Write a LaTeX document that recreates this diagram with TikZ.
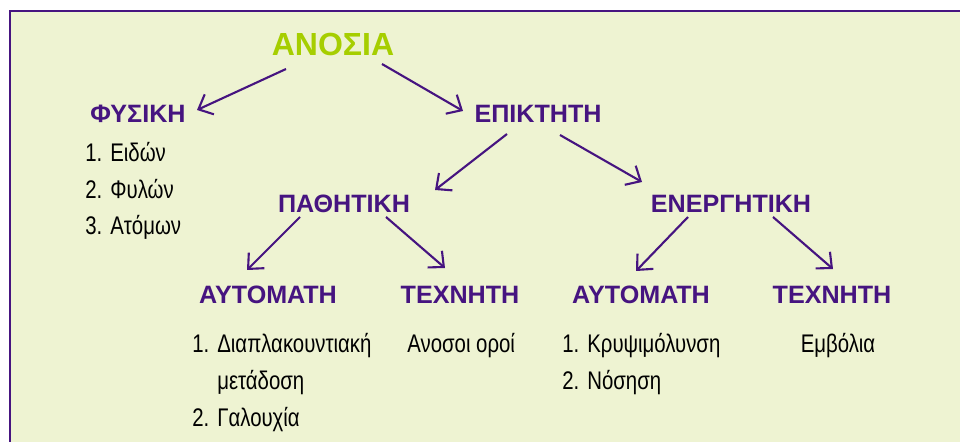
\documentclass[tikz,border=0pt]{standalone}
\usepackage{fontspec}
\setmainfont{Liberation Sans}
\newfontfamily\narrowfont[FakeStretch=0.8]{Liberation Sans}
\usepackage{tikz}
\usetikzlibrary{arrows.meta,positioning}
\definecolor{framepurple}{HTML}{461480}
\definecolor{paneback}{HTML}{EEF3D2}
\definecolor{titlegreen}{HTML}{A6CE00}
\newcommand{\listno}[1]{\makebox[5mm][l]{#1.}}
\begin{document}
\begin{tikzpicture}[x=0.02cm,y=-0.02cm,
title node/.style={anchor=base,inner sep=0pt,font=\fontsize{18.2}{20}\selectfont\bfseries,text=titlegreen},
class node/.style={anchor=base,inner sep=0pt,font=\fontsize{14.3}{16}\selectfont\bfseries,text=framepurple},
item list/.style={anchor=base west,inner sep=0pt,align=left,font=\narrowfont\fontsize{14.5}{21}\selectfont},
flow/.style={-{Straight Barb[length=2.4mm,width=4.4mm,line width=1.2pt]},line width=1.2pt,draw=framepurple}]
\useasboundingbox (0,0) rectangle (960,442);
\fill[white] (0,0) rectangle (960,442);
\filldraw[fill=paneback,draw=framepurple,line width=1.6pt] (10,11) rectangle (975,460);
% top of the tree
\node[title node] (anosia) at (333,56) {ΑΝΟΣΙΑ};
\node[class node] (fysiki) at (138,123) {ΦΥΣΙΚΗ};
\node[class node] (epikt) at (538,123) {ΕΠΙΚΤΗΤΗ};
\node[class node] (pathi) at (344,213) {ΠΑΘΗΤΙΚΗ};
\node[class node] (energ) at (731,213) {ΕΝΕΡΓΗΤΙΚΗ};
\node[class node] (autoA) at (268,303) {ΑΥΤΟΜΑΤΗ};
\node[class node] (techA) at (460,303) {ΤΕΧΝΗΤΗ};
\node[class node] (autoB) at (641,303) {ΑΥΤΟΜΑΤΗ};
\node[class node] (techB) at (832,303) {ΤΕΧΝΗΤΗ};
% lists (placed at the baseline of their last line)
\node[item list] (fysList) at (85,235) {\listno{1}Ειδών\\\listno{2}Φυλών\\\listno{3}Ατόμων};
\node[item list] (autoAList) at (192,426) {\listno{1}Διαπλακουντιακή\\\hspace*{5mm}μετάδοση\\\listno{2}Γαλουχία};
\node[item list] (techAList) at (407,352) {Ανοσοι οροί};
\node[item list] (autoBList) at (562,389) {\listno{1}Κρυψιμόλυνση\\\listno{2}Νόσηση};
\node[item list,anchor=base] (techBList) at (838,352) {Εμβόλια};
% arrows
\draw[flow] ([shift={(-47,13)}]anosia.base) -- ([shift={(59,-13)}]fysiki.base);
\draw[flow] ([shift={(49,8)}]anosia.base) -- ([shift={(-75,-12)}]epikt.base);
\draw[flow] ([shift={(-31,11)}]epikt.base) -- ([shift={(91,-23)}]pathi.base);
\draw[flow] ([shift={(22,12)}]epikt.base) -- ([shift={(-89,-31)}]energ.base);
\draw[flow] ([shift={(-44,4)}]pathi.base) -- ([shift={(-21,-33)}]autoA.base);
\draw[flow] ([shift={(42,4)}]pathi.base) -- ([shift={(-15,-35)}]techA.base);
\draw[flow] ([shift={(-43,4)}]energ.base) -- ([shift={(-5,-32)}]autoB.base);
\draw[flow] ([shift={(42,4)}]energ.base) -- ([shift={(1,-34)}]techB.base);
\end{tikzpicture}
\end{document}
